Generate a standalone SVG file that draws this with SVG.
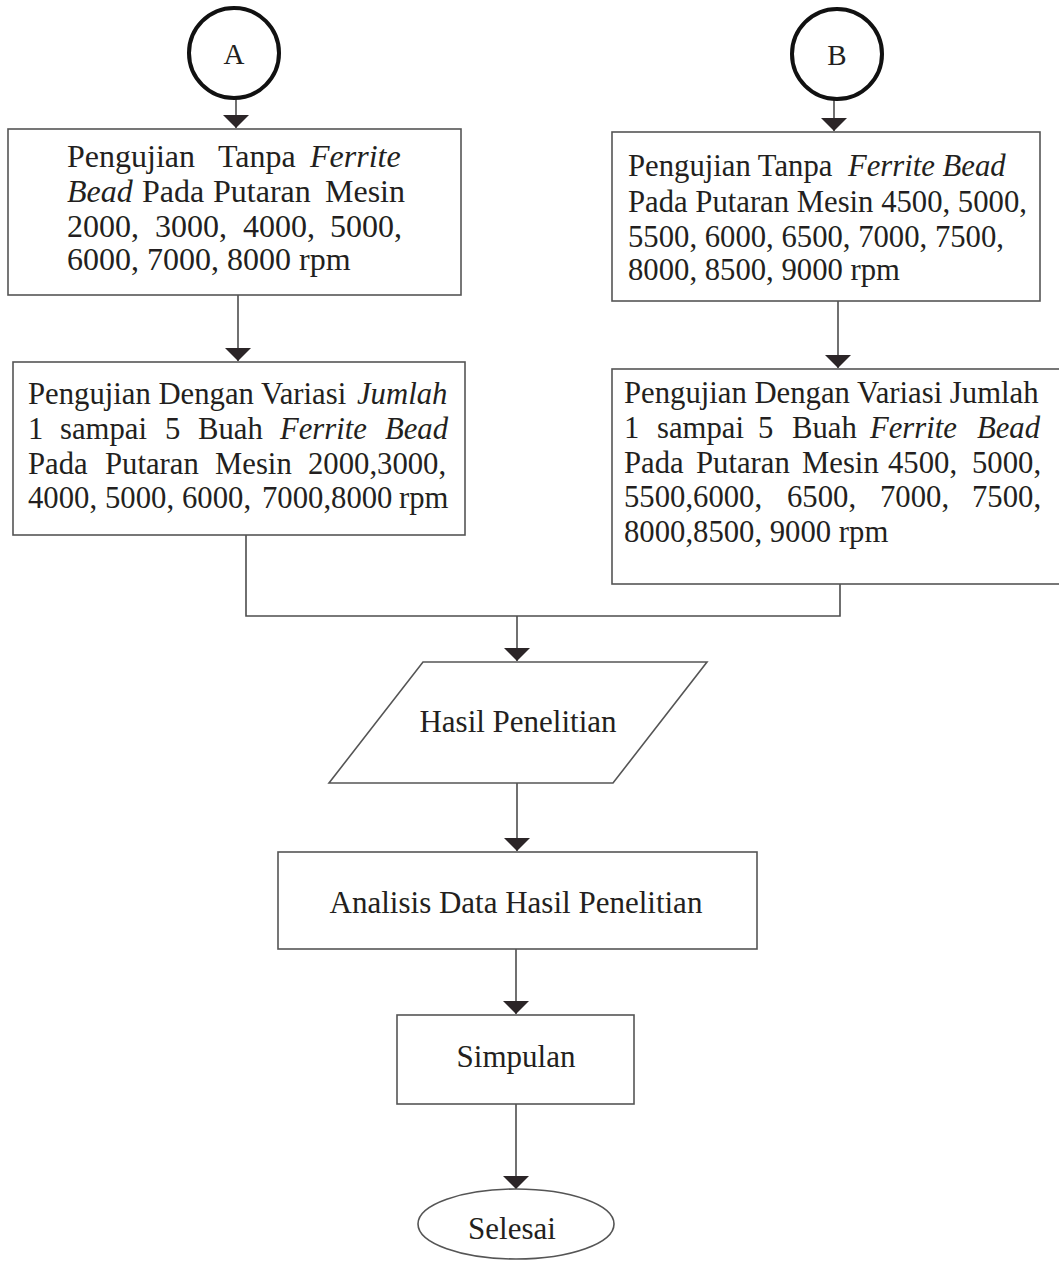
<svg xmlns="http://www.w3.org/2000/svg" width="1059" height="1264" viewBox="0 0 1059 1264">
<style>
text{font-family:"Liberation Serif","Times New Roman",serif;fill:#231f20;}
.t{font-size:30.7px;}
.t1{font-size:32px;}
.big{font-size:31px;}
.lbl{font-size:29px;}
.i{font-style:italic;}
.box{fill:#fff;stroke:#555;stroke-width:1.6;}
.conn{fill:none;stroke:#4d4d4d;stroke-width:1.6;}
.circ{fill:#fff;stroke:#111;stroke-width:4;}
</style>
<defs>
<marker id="ah" markerUnits="userSpaceOnUse" markerWidth="14" markerHeight="28" viewBox="0 -14 14 28" refX="13" refY="0" orient="auto">
<path d="M0,-13 L13,0 L0,13 z" fill="#2b2527"/>
</marker>
</defs>
<rect width="1059" height="1264" fill="#fff"/>

<g id="connectors">
<line class="conn" x1="236" y1="99" x2="236" y2="128" marker-end="url(#ah)"/>
<line class="conn" x1="834" y1="100" x2="834" y2="131" marker-end="url(#ah)"/>
<line class="conn" x1="238" y1="295" x2="238" y2="361" marker-end="url(#ah)"/>
<line class="conn" x1="838" y1="301" x2="838" y2="368" marker-end="url(#ah)"/>
<path class="conn" d="M246,535 V616 H840 V584"/>
<line class="conn" x1="517" y1="616" x2="517" y2="661" marker-end="url(#ah)"/>
<line class="conn" x1="517" y1="783" x2="517" y2="851" marker-end="url(#ah)"/>
<line class="conn" x1="516" y1="949" x2="516" y2="1014" marker-end="url(#ah)"/>
<line class="conn" x1="516" y1="1104" x2="516" y2="1189" marker-end="url(#ah)"/>
</g>

<g id="nodeA">
<circle class="circ" cx="234" cy="53" r="45"/>
<text class="lbl" x="234" y="64" text-anchor="middle">A</text>
</g>

<g id="nodeB">
<circle class="circ" cx="837" cy="54" r="45"/>
<text class="lbl" x="837" y="65" text-anchor="middle">B</text>
</g>

<g id="box1">
<rect class="box" x="8" y="129" width="453" height="166"/>
<text class="t1" y="167"><tspan x="67">Pengujian</tspan><tspan x="218">Tanpa</tspan><tspan x="310" class="i">Ferrite</tspan></text>
<text class="t1" y="202"><tspan x="67" class="i">Bead</tspan><tspan x="142">Pada</tspan><tspan x="213">Putaran</tspan><tspan x="325">Mesin</tspan></text>
<text class="t1" y="237"><tspan x="67">2000,</tspan><tspan x="155">3000,</tspan><tspan x="243">4000,</tspan><tspan x="330">5000,</tspan></text>
<text class="t1" x="67" y="270">6000, 7000, 8000 rpm</text>
</g>

<g id="box2">
<rect class="box" x="13" y="362" width="452" height="173"/>
<text class="t" y="404"><tspan x="28">Pengujian Dengan Variasi</tspan><tspan x="357" class="i">Jumlah</tspan></text>
<text class="t" y="439"><tspan x="28">1</tspan><tspan x="60">sampai</tspan><tspan x="165">5</tspan><tspan x="198">Buah</tspan><tspan x="280" class="i">Ferrite</tspan><tspan x="385" class="i">Bead</tspan></text>
<text class="t" y="474"><tspan x="28">Pada</tspan><tspan x="105">Putaran</tspan><tspan x="215">Mesin</tspan><tspan x="308">2000,3000,</tspan></text>
<text class="t" y="508"><tspan x="28">4000,</tspan><tspan x="105">5000,</tspan><tspan x="182">6000,</tspan><tspan x="262">7000,8000</tspan><tspan x="399">rpm</tspan></text>
</g>

<g id="box3">
<rect class="box" x="612" y="132" width="428" height="169"/>
<text class="t" y="176"><tspan x="628">Pengujian Tanpa</tspan><tspan x="848" class="i">Ferrite Bead</tspan></text>
<text class="t" x="628" y="212">Pada Putaran Mesin 4500, 5000,</text>
<text class="t" x="628" y="247">5500, 6000, 6500, 7000, 7500,</text>
<text class="t" x="628" y="280">8000, 8500, 9000 rpm</text>
</g>

<g id="box4">
<rect class="box" x="612" y="369" width="460" height="215"/>
<text class="t" x="624" y="403">Pengujian Dengan Variasi Jumlah</text>
<text class="t" y="438"><tspan x="624">1</tspan><tspan x="657">sampai</tspan><tspan x="758">5</tspan><tspan x="792">Buah</tspan><tspan x="870" class="i">Ferrite</tspan><tspan x="977" class="i">Bead</tspan></text>
<text class="t" y="473"><tspan x="624">Pada</tspan><tspan x="696">Putaran</tspan><tspan x="802">Mesin</tspan><tspan x="888">4500,</tspan><tspan x="972">5000,</tspan></text>
<text class="t" y="507"><tspan x="624">5500,6000,</tspan><tspan x="787">6500,</tspan><tspan x="880">7000,</tspan><tspan x="972">7500,</tspan></text>
<text class="t" x="624" y="542">8000,8500, 9000 rpm</text>
</g>

<g id="hasil">
<polygon class="box" points="423,662 707,662 613,783 329,783"/>
<text class="big" x="518" y="732" text-anchor="middle">Hasil Penelitian</text>
</g>

<g id="analisis">
<rect class="box" x="278" y="852" width="479" height="97"/>
<text class="big" x="516" y="913" text-anchor="middle">Analisis Data Hasil Penelitian</text>
</g>

<g id="simpulan">
<rect class="box" x="397" y="1015" width="237" height="89"/>
<text class="big" x="516" y="1067" text-anchor="middle">Simpulan</text>
</g>

<g id="selesai">
<ellipse class="box" cx="516" cy="1224" rx="98" ry="35"/>
<text class="big" x="512" y="1239" text-anchor="middle">Selesai</text>
</g>
</svg>
